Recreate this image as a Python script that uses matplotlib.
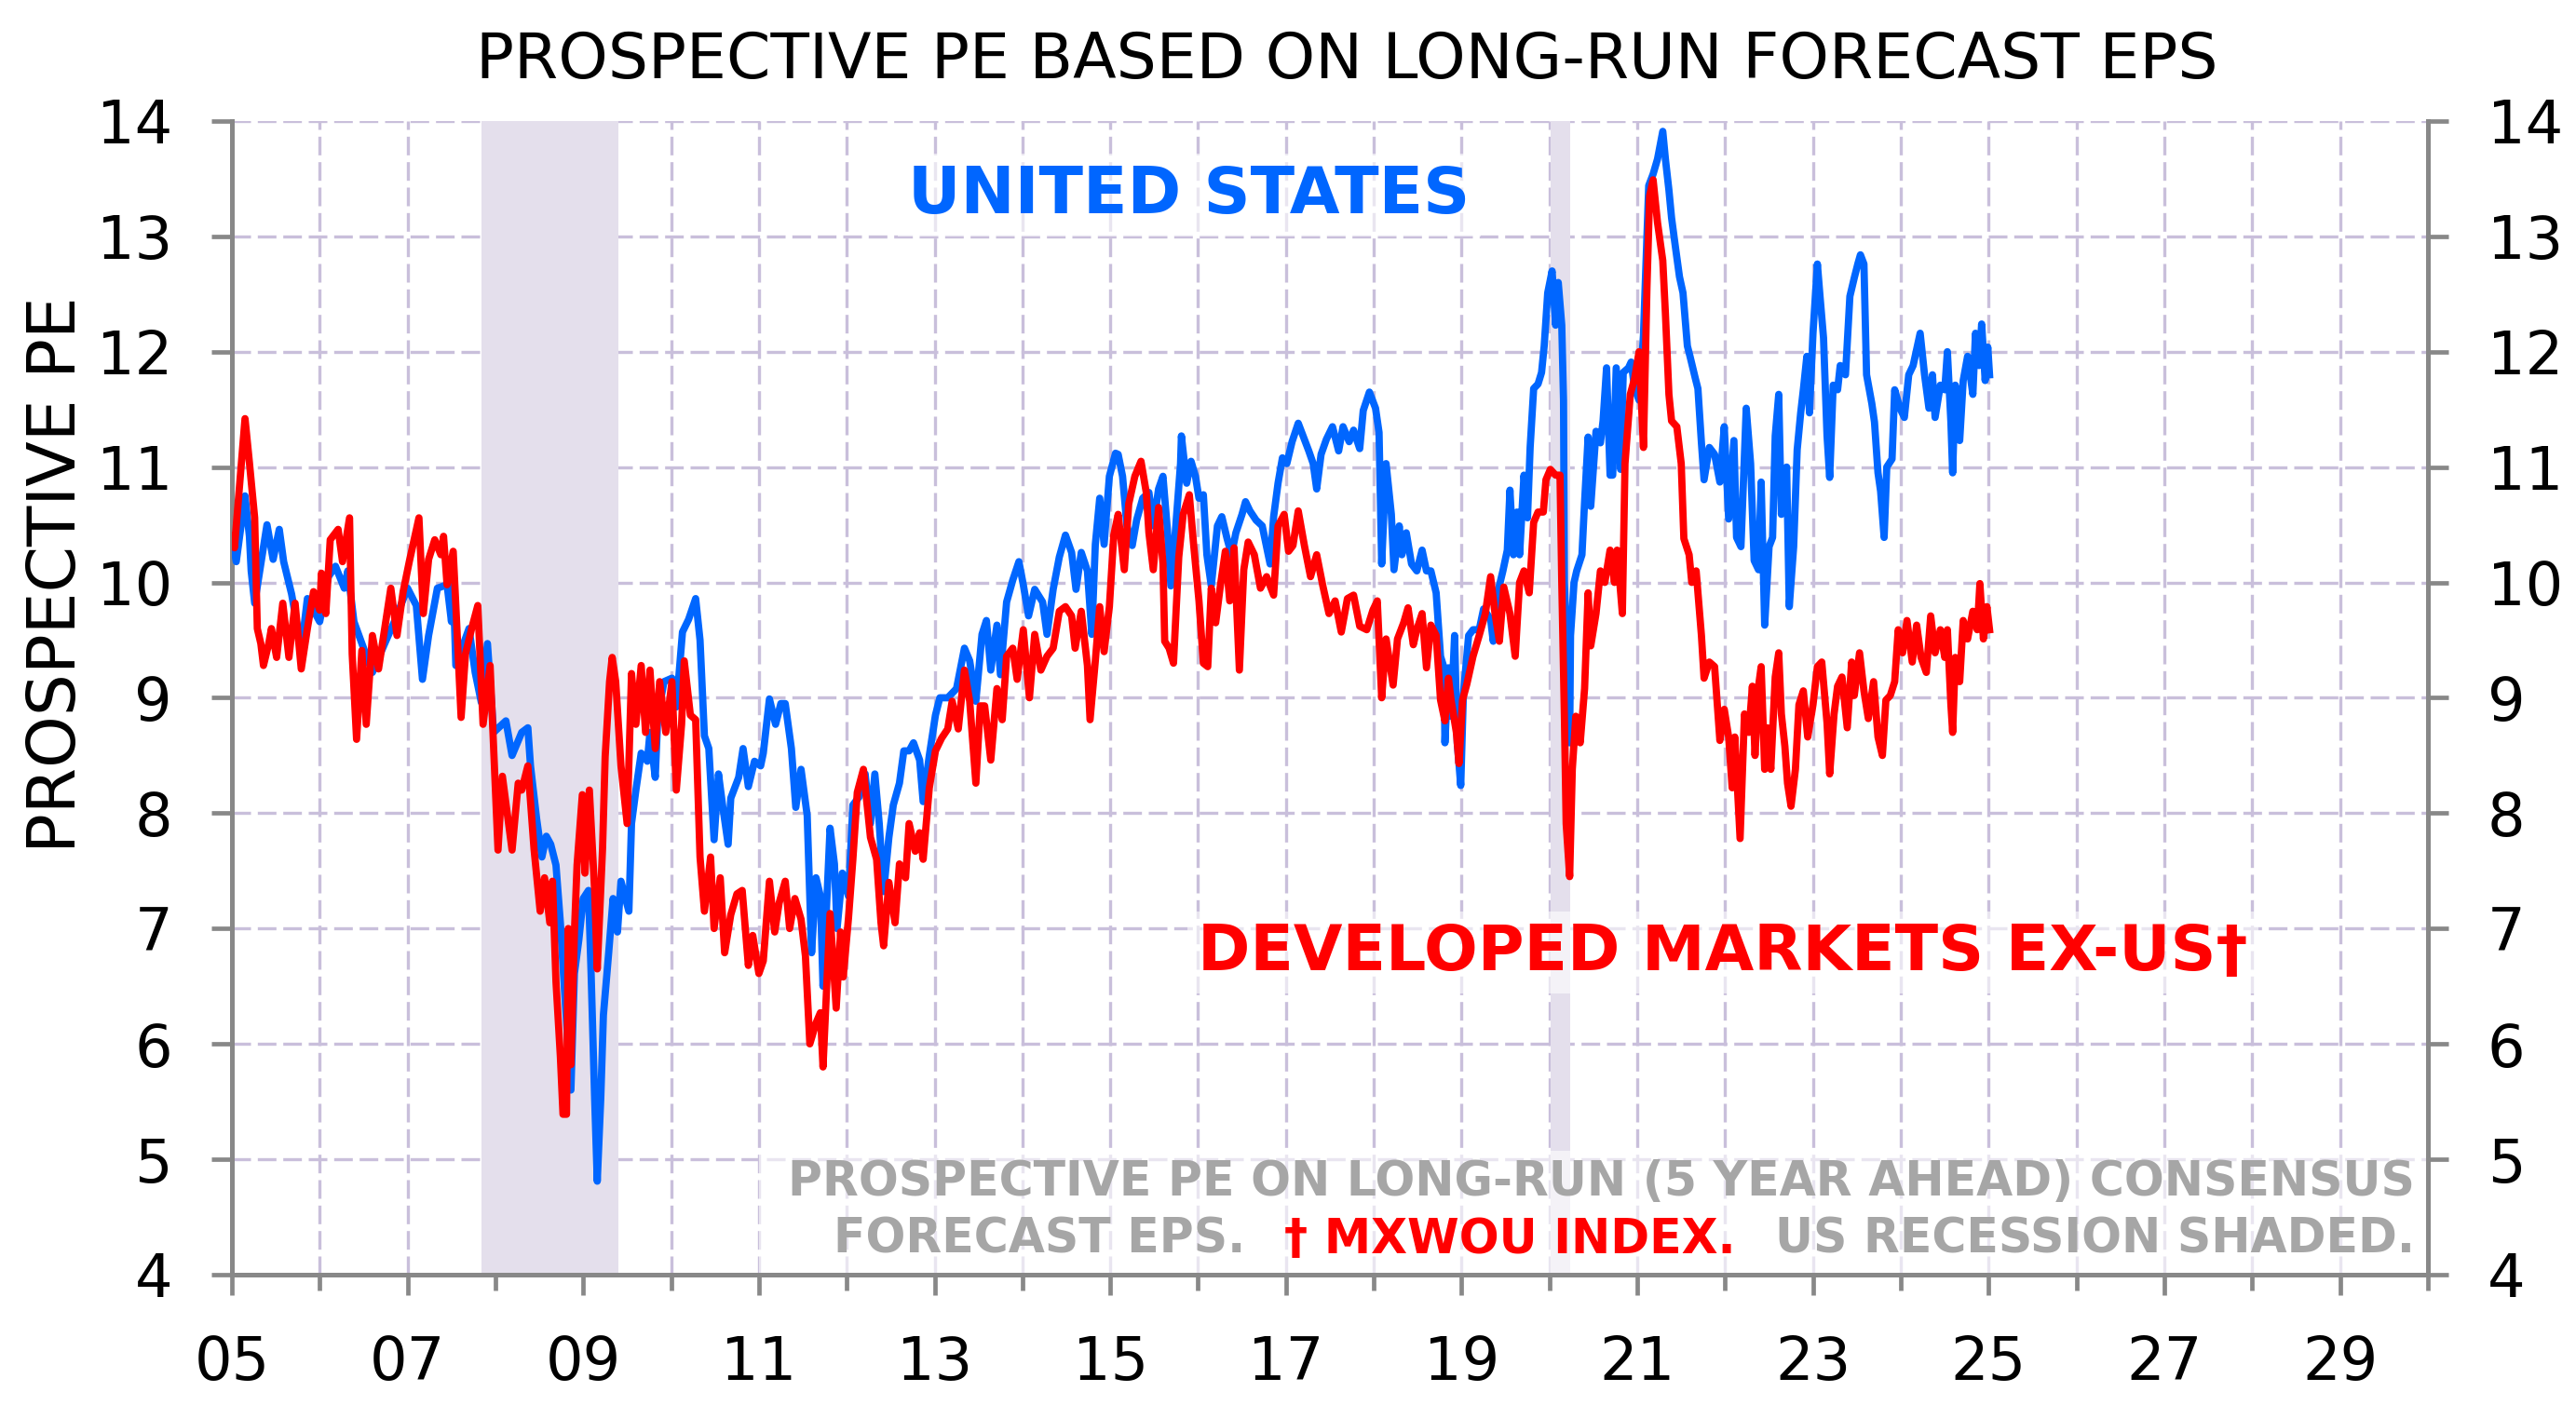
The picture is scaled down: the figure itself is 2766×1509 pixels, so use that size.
import matplotlib
matplotlib.use("Agg")
import matplotlib.pyplot as plt
from matplotlib.patches import Rectangle
from matplotlib.ticker import FixedLocator, MultipleLocator

plt.rcParams['font.family'] = ['DejaVu Sans']

# US prospective PE (decimal year, value)
us_dates = [2005.00, 2005.05, 2005.15, 2005.20, 2005.22, 2005.26, 2005.40, 2005.47, 2005.54, 2005.59,
            2005.68, 2005.75, 2005.81, 2005.86, 2006.00, 2006.10, 2006.18, 2006.28, 2006.32, 2006.39,
            2006.60, 2006.74, 2006.85, 2007.00, 2007.10, 2007.17, 2007.24, 2007.34, 2007.45, 2007.50,
            2007.52, 2007.55, 2007.70, 2007.77, 2007.84, 2007.91, 2007.98, 2008.12, 2008.19,
            2008.30, 2008.37, 2008.40, 2008.47, 2008.53, 2008.58, 2008.63, 2008.69, 2008.74, 2008.79,
            2008.86, 2008.90, 2008.95, 2009.00, 2009.06, 2009.09, 2009.13, 2009.16, 2009.20, 2009.23,
            2009.29, 2009.34, 2009.39, 2009.43, 2009.52, 2009.55, 2009.60, 2009.66, 2009.73, 2009.76,
            2009.82, 2009.85, 2009.92, 2010.01, 2010.06, 2010.13, 2010.20, 2010.28, 2010.33, 2010.38,
            2010.43, 2010.49, 2010.54, 2010.59, 2010.65, 2010.68, 2010.77, 2010.82, 2010.88, 2010.95,
            2011.02, 2011.05, 2011.12, 2011.19, 2011.25, 2011.30, 2011.37, 2011.42, 2011.48, 2011.55,
            2011.60, 2011.65,
            2011.70, 2011.73, 2011.81, 2011.86, 2011.89, 2011.95, 2012.02, 2012.07, 2012.14, 2012.21,
            2012.27, 2012.32, 2012.37, 2012.42, 2012.48, 2012.53, 2012.60, 2012.65, 2012.71, 2012.76,
            2012.83, 2012.87, 2012.94, 2013.01, 2013.06, 2013.15, 2013.25, 2013.34, 2013.40, 2013.47,
            2013.54, 2013.59, 2013.64, 2013.71, 2013.75, 2013.82, 2013.89, 2013.96, 2014.01, 2014.07,
            2014.14, 2014.23, 2014.28, 2014.35, 2014.42, 2014.49, 2014.56, 2014.61, 2014.67, 2014.74,
            2014.79, 2014.83, 2014.88, 2014.93, 2014.99, 2015.06,
            2015.09, 2015.14, 2015.19, 2015.25, 2015.30, 2015.37, 2015.44, 2015.49, 2015.55, 2015.60,
            2015.65, 2015.69, 2015.74, 2015.80, 2015.81, 2015.87, 2015.92, 2015.97, 2016.01, 2016.06,
            2016.10, 2016.15, 2016.22, 2016.27, 2016.33, 2016.38, 2016.43, 2016.50, 2016.54, 2016.59,
            2016.66, 2016.73, 2016.82, 2016.86, 2016.91, 2016.96, 2017.01, 2017.07, 2017.14, 2017.21,
            2017.26, 2017.31, 2017.35, 2017.40, 2017.46, 2017.53, 2017.60, 2017.65, 2017.72, 2017.77,
            2017.84, 2017.88, 2017.95, 2018.02, 2018.06, 2018.09, 2018.14, 2018.20, 2018.23, 2018.29,
            2018.32, 2018.37, 2018.43,
            2018.49, 2018.55, 2018.60, 2018.65, 2018.71, 2018.76, 2018.80, 2018.81, 2018.85, 2018.88,
            2018.92, 2018.95, 2018.99, 2019.02, 2019.08, 2019.13, 2019.20, 2019.25, 2019.33, 2019.36,
            2019.41, 2019.47, 2019.52, 2019.55, 2019.59, 2019.63, 2019.66, 2019.71, 2019.75, 2019.78,
            2019.82, 2019.87, 2019.91, 2019.94, 2019.98, 2020.03, 2020.07, 2020.10, 2020.14, 2020.16,
            2020.17, 2020.21, 2020.23, 2020.24, 2020.28, 2020.31, 2020.37, 2020.40, 2020.44, 2020.47,
            2020.53, 2020.58, 2020.61, 2020.65, 2020.69, 2020.72, 2020.76, 2020.81, 2020.84, 2020.90,
            2020.93, 2020.97, 2021.02, 2021.07, 2021.13, 2021.18, 2021.23, 2021.29, 2021.32, 2021.36,
            2021.39, 2021.43, 2021.48, 2021.52, 2021.57, 2021.60, 2021.66, 2021.69, 2021.73, 2021.76,
            2021.82,
            2021.88, 2021.94, 2021.99, 2022.04, 2022.10, 2022.13, 2022.18, 2022.24, 2022.29, 2022.33,
            2022.38, 2022.41, 2022.45, 2022.50, 2022.54, 2022.57, 2022.61, 2022.64, 2022.70, 2022.73,
            2022.78, 2022.82, 2022.86, 2022.89, 2022.93, 2022.96, 2023.00, 2023.05, 2023.08, 2023.12,
            2023.16, 2023.19, 2023.23, 2023.28, 2023.31, 2023.37, 2023.42, 2023.47, 2023.51, 2023.54,
            2023.58, 2023.61, 2023.67, 2023.70, 2023.74, 2023.77, 2023.81, 2023.84, 2023.90, 2023.93,
            2023.99, 2024.04, 2024.09, 2024.14, 2024.22, 2024.27, 2024.32, 2024.36, 2024.39, 2024.45,
            2024.50, 2024.53, 2024.57, 2024.59, 2024.62, 2024.67, 2024.71, 2024.76, 2024.82, 2024.85,
            2024.89, 2024.92, 2024.96, 2024.99, 2025.01]
us_pe = [10.40, 10.18, 10.75, 10.40, 10.10, 9.82, 10.50, 10.20, 10.46, 10.18,
         9.90, 9.60, 9.54, 9.86, 9.66, 10.05, 10.14, 9.95, 10.10, 9.66,
         9.22, 9.47, 9.66, 9.95, 9.80, 9.16, 9.54, 9.95, 9.98, 9.66,
         10.00, 9.28, 9.60, 9.22, 8.96, 9.47, 8.70, 8.80, 8.50,
         8.70, 8.74, 8.41, 7.95, 7.62, 7.80, 7.73, 7.55, 7.05, 6.43,
         5.60, 6.61, 6.90, 7.26, 7.33, 6.61, 5.53, 4.81, 5.53, 6.25,
         6.79, 7.26, 6.97, 7.41, 7.15, 7.91, 8.20, 8.52, 8.45, 8.70,
         8.31, 8.85, 9.14, 9.17, 8.92, 9.57, 9.68, 9.86, 9.50, 8.67,
         8.56, 7.77, 8.34, 8.05, 7.73, 8.13, 8.31, 8.56, 8.23, 8.45,
         8.41, 8.52, 8.99, 8.77, 8.95, 8.95, 8.56, 8.05, 8.38, 7.98,
         6.79, 7.44,
         7.28, 6.50, 7.87, 7.56, 7.00, 7.48, 7.28, 8.07, 8.14, 8.34,
         7.91, 8.34, 7.91, 7.32, 7.79, 8.07, 8.26, 8.54, 8.54, 8.61,
         8.46, 8.10, 8.50, 8.85, 9.00, 9.00, 9.08, 9.43, 9.32, 8.97,
         9.55, 9.67, 9.24, 9.63, 9.20, 9.83, 10.02, 10.18, 9.98, 9.71,
         9.94, 9.83, 9.55, 9.94, 10.22, 10.41, 10.26, 9.94, 10.26, 10.10,
         9.55, 10.33, 10.73, 10.33, 10.92, 11.12,
         11.11, 10.92, 10.49, 10.32, 10.54, 10.73, 10.78, 10.49, 10.81, 10.92,
         10.46, 9.97, 10.43, 11.03, 11.27, 10.86, 11.05, 10.92, 10.73, 10.76,
         10.24, 9.97, 10.49, 10.57, 10.38, 10.24, 10.43, 10.59, 10.70, 10.62,
         10.54, 10.49, 10.16, 10.57, 10.86, 11.08, 11.03, 11.22, 11.38, 11.24,
         11.14, 11.03, 10.81, 11.11, 11.24, 11.35, 11.14, 11.35, 11.22, 11.32,
         11.16, 11.49, 11.65, 11.51, 11.30, 10.16, 11.03, 10.59, 10.11, 10.49,
         10.24, 10.43, 10.16,
         10.10, 10.28, 10.10, 10.10, 9.91, 9.36, 9.26, 8.61, 9.26, 8.84,
         9.54, 8.61, 8.24, 9.03, 9.54, 9.59, 9.59, 9.77, 9.68, 9.49,
         9.91, 10.10, 10.28, 10.80, 10.24, 10.61, 10.24, 10.93, 10.56, 11.17,
         11.68, 11.72, 11.82, 12.05, 12.51, 12.70, 12.23, 12.60, 12.23, 11.58,
         10.00, 9.08, 8.61, 9.54, 10.00, 10.10, 10.24, 10.70, 11.26, 10.66,
         11.31, 11.21, 11.40, 11.86, 10.93, 10.93, 11.86, 10.98, 11.82, 11.86,
         11.91, 11.68, 11.58, 12.14, 13.44, 13.54, 13.67, 13.91, 13.67, 13.40,
         13.16, 12.93, 12.65, 12.51, 12.05, 11.96, 11.77, 11.68, 11.21, 10.89,
         11.17,
         11.11, 10.87, 11.35, 10.55, 11.23, 10.39, 10.31, 11.51, 11.03, 10.19,
         10.11, 10.87, 9.63, 10.31, 10.39, 11.27, 11.63, 10.59, 11.00, 9.79,
         10.31, 11.15, 11.47, 11.67, 11.96, 11.47, 12.16, 12.76, 12.48, 12.12,
         11.27, 10.91, 11.71, 11.67, 11.88, 11.80, 12.48, 12.64, 12.76, 12.84,
         12.76, 11.80, 11.55, 11.39, 10.95, 10.79, 10.39, 11.00, 11.07, 11.67,
         11.51, 11.43, 11.80, 11.88, 12.16, 11.80, 11.51, 11.80, 11.43, 11.71,
         11.67, 12.00, 11.39, 10.95, 11.71, 11.23, 11.75, 11.96, 11.63, 12.16,
         11.88, 12.24, 11.75, 12.04, 11.80]

# Developed markets ex-US (MXWOU) prospective PE
dm_dates = [2005.00, 2005.03, 2005.15, 2005.20, 2005.26, 2005.29, 2005.33, 2005.36, 2005.42, 2005.45,
            2005.51, 2005.58, 2005.65, 2005.72, 2005.79, 2005.86, 2005.93, 2006.00, 2006.02, 2006.07,
            2006.12, 2006.21, 2006.26, 2006.34, 2006.37, 2006.42, 2006.48, 2006.53, 2006.60, 2006.67,
            2006.74, 2006.81, 2006.88, 2006.95, 2007.02, 2007.13, 2007.18, 2007.24, 2007.31, 2007.38,
            2007.41, 2007.45, 2007.52, 2007.55, 2007.61, 2007.66, 2007.73, 2007.80, 2007.86, 2007.94,
            2008.03, 2008.08, 2008.19, 2008.26,
            2008.30, 2008.37, 2008.44, 2008.51, 2008.56, 2008.62, 2008.65, 2008.69, 2008.74, 2008.77,
            2008.81, 2008.83, 2008.86, 2008.90, 2008.93, 2008.99, 2009.02, 2009.07, 2009.13, 2009.16,
            2009.22, 2009.25, 2009.30, 2009.33, 2009.37, 2009.43, 2009.50, 2009.55, 2009.60, 2009.66,
            2009.71, 2009.76, 2009.82, 2009.87, 2009.94, 2010.01, 2010.06, 2010.12, 2010.15, 2010.22,
            2010.28, 2010.33, 2010.38, 2010.45, 2010.49, 2010.56, 2010.61, 2010.68, 2010.75, 2010.81,
            2010.88, 2010.93, 2011.00, 2011.05, 2011.12, 2011.18, 2011.23, 2011.30, 2011.35, 2011.41,
            2011.48, 2011.53, 2011.58, 2011.65,
            2011.70, 2011.73, 2011.81, 2011.88, 2011.93, 2011.96, 2012.02, 2012.07, 2012.12, 2012.19,
            2012.27, 2012.34, 2012.39, 2012.42, 2012.48, 2012.55, 2012.60, 2012.67, 2012.71, 2012.78,
            2012.83, 2012.87, 2012.94, 2013.01, 2013.08, 2013.15, 2013.20, 2013.27, 2013.34, 2013.40,
            2013.47, 2013.52, 2013.57, 2013.64, 2013.71, 2013.77, 2013.82, 2013.89, 2013.94, 2014.01,
            2014.08, 2014.14, 2014.21, 2014.28, 2014.35, 2014.42, 2014.49, 2014.56, 2014.60, 2014.67,
            2014.74, 2014.77, 2014.83, 2014.88, 2014.93, 2014.99, 2015.04,
            2015.09, 2015.16, 2015.21, 2015.28, 2015.35, 2015.41, 2015.44, 2015.49, 2015.55, 2015.60,
            2015.62, 2015.67, 2015.72, 2015.78, 2015.83, 2015.90, 2015.95, 2016.01, 2016.06, 2016.11,
            2016.15, 2016.20, 2016.25, 2016.31, 2016.36, 2016.41, 2016.47, 2016.52, 2016.57, 2016.64,
            2016.71, 2016.78, 2016.86, 2016.91, 2016.98, 2017.03, 2017.08, 2017.14, 2017.21, 2017.28,
            2017.35, 2017.42, 2017.49, 2017.56, 2017.63, 2017.70, 2017.77, 2017.84, 2017.92, 2017.99,
            2018.04, 2018.09, 2018.14, 2018.22, 2018.27, 2018.34, 2018.39, 2018.45,
            2018.49, 2018.55, 2018.60, 2018.65, 2018.71, 2018.76, 2018.81, 2018.85, 2018.88, 2018.94,
            2018.97, 2019.01, 2019.06, 2019.13, 2019.20, 2019.27, 2019.33, 2019.38, 2019.43, 2019.48,
            2019.55, 2019.61, 2019.66, 2019.71, 2019.77, 2019.82, 2019.87, 2019.93, 2019.96, 2020.01,
            2020.07, 2020.12, 2020.14, 2020.17, 2020.19, 2020.23, 2020.26, 2020.30, 2020.35, 2020.40,
            2020.44, 2020.47, 2020.53, 2020.58, 2020.63, 2020.69, 2020.74, 2020.77, 2020.83, 2020.86,
            2020.92, 2020.97, 2021.02, 2021.07, 2021.11, 2021.14, 2021.18, 2021.23, 2021.29, 2021.32,
            2021.36, 2021.39, 2021.45, 2021.50, 2021.53, 2021.59, 2021.62, 2021.67, 2021.73, 2021.76,
            2021.82,
            2021.88, 2021.94, 2021.99, 2022.04, 2022.08, 2022.11, 2022.17, 2022.22, 2022.27, 2022.31,
            2022.34, 2022.38, 2022.41, 2022.45, 2022.48, 2022.52, 2022.57, 2022.61, 2022.64, 2022.68,
            2022.71, 2022.75, 2022.80, 2022.84, 2022.89, 2022.94, 2023.00, 2023.05, 2023.10, 2023.16,
            2023.19, 2023.24, 2023.28, 2023.33, 2023.39, 2023.44, 2023.47, 2023.53, 2023.58, 2023.63,
            2023.69, 2023.74, 2023.79, 2023.83, 2023.88, 2023.93, 2023.97, 2024.02, 2024.07, 2024.13,
            2024.18, 2024.23, 2024.29, 2024.34, 2024.39, 2024.45, 2024.50, 2024.53, 2024.57, 2024.59,
            2024.62, 2024.67, 2024.71, 2024.76, 2024.82, 2024.87, 2024.90, 2024.94, 2024.98, 2025.01]
dm_pe = [10.40, 10.30, 11.42, 11.04, 10.56, 9.60, 9.47, 9.28, 9.47, 9.60,
         9.35, 9.82, 9.35, 9.82, 9.25, 9.60, 9.92, 9.76, 10.08, 9.73,
         10.37, 10.46, 10.18, 10.56, 9.38, 8.64, 9.41, 8.77, 9.54, 9.25,
         9.60, 9.95, 9.54, 9.92, 10.18, 10.56, 9.73, 10.20, 10.37, 10.24,
         10.40, 9.98, 10.27, 9.80, 8.83, 9.38, 9.60, 9.80, 8.77, 9.28,
         7.68, 8.32, 7.68, 8.26,
         8.20, 8.41, 7.69, 7.15, 7.44, 7.05, 7.41, 6.54, 5.89, 5.39,
         5.39, 7.00, 5.82, 6.97, 7.55, 8.16, 7.48, 8.20, 7.33, 6.65,
         7.69, 8.49, 9.14, 9.35, 9.14, 8.41, 7.91, 9.21, 8.77, 9.28,
         8.70, 9.24, 8.56, 9.14, 8.70, 9.14, 8.20, 8.77, 9.32, 8.85,
         8.81, 7.62, 7.15, 7.62, 7.00, 7.44, 6.79, 7.12, 7.30, 7.33,
         6.68, 6.94, 6.61, 6.72, 7.41, 6.97, 7.22, 7.41, 7.00, 7.26,
         7.08, 6.76, 6.00, 6.18,
         6.27, 5.80, 7.13, 6.31, 6.97, 6.58, 7.09, 7.60, 8.18, 8.38,
         7.79, 7.60, 7.05, 6.85, 7.40, 7.05, 7.56, 7.44, 7.91, 7.67,
         7.83, 7.60, 8.22, 8.54, 8.65, 8.73, 8.97, 8.73, 9.24, 8.97,
         8.26, 8.93, 8.93, 8.46, 9.08, 8.81, 9.36, 9.43, 9.16, 9.59,
         9.00, 9.55, 9.24, 9.36, 9.43, 9.75, 9.79, 9.71, 9.43, 9.75,
         9.28, 8.81, 9.32, 9.79, 9.40, 9.79, 10.41,
         10.59, 10.11, 10.68, 10.92, 11.05, 10.78, 10.43, 10.11, 10.65, 10.16,
         9.49, 9.43, 9.30, 10.22, 10.59, 10.76, 10.32, 9.84, 9.30, 9.27,
         9.95, 9.65, 9.95, 10.27, 9.84, 10.30, 9.24, 10.11, 10.35, 10.24,
         9.95, 10.05, 9.89, 10.49, 10.59, 10.27, 10.32, 10.62, 10.32, 10.05,
         10.24, 9.97, 9.73, 9.84, 9.57, 9.86, 9.89, 9.62, 9.59, 9.76,
         9.84, 9.00, 9.51, 9.11, 9.51, 9.65, 9.78, 9.46,
         9.59, 9.73, 9.26, 9.63, 9.54, 8.98, 8.80, 9.17, 8.98, 8.70,
         8.43, 8.98, 9.12, 9.36, 9.54, 9.73, 10.05, 9.73, 9.49, 9.96,
         9.73, 9.36, 10.00, 10.10, 9.91, 10.52, 10.61, 10.61, 10.89, 10.98,
         10.93, 10.93, 10.00, 8.84, 7.91, 7.45, 8.38, 8.84, 8.61, 9.08,
         9.91, 9.45, 9.73, 10.10, 10.00, 10.28, 10.00, 10.28, 9.73, 11.03,
         11.63, 11.77, 12.00, 11.17, 12.56, 13.35, 13.49, 13.12, 12.79, 12.33,
         11.63, 11.40, 11.35, 11.03, 10.38, 10.24, 10.00, 10.10, 9.54, 9.17,
         9.31,
         9.27, 8.63, 8.90, 8.66, 8.22, 8.66, 7.78, 8.86, 8.70, 9.10,
         8.50, 9.10, 9.27, 8.38, 8.74, 8.38, 9.18, 9.39, 8.86, 8.58,
         8.26, 8.06, 8.38, 8.94, 9.06, 8.66, 8.94, 9.27, 9.31, 8.78,
         8.34, 8.86, 9.10, 9.18, 8.74, 9.31, 9.02, 9.39, 9.06, 8.82,
         9.14, 8.66, 8.50, 8.98, 9.02, 9.14, 9.59, 9.39, 9.67, 9.31,
         9.63, 9.35, 9.22, 9.71, 9.39, 9.59, 9.35, 9.59, 8.94, 8.70,
         9.35, 9.14, 9.67, 9.51, 9.75, 9.59, 9.99, 9.51, 9.79, 9.59]

# US recessions (shaded)
recessions = [(2007.84, 2009.40), (2020.01, 2020.24)]

year_ticks = list(range(2005, 2030, 2))
year_labels = ['%02d' % (y % 100) for y in year_ticks]
pe_ticks = list(range(4, 15))

GRAY = '#888888'
GRID = '#C9BFDB'
BLUE = '#0066FF'
RED = '#FF0000'
NOTE = '#A6A6A6'

fig = plt.figure(figsize=(13.83, 7.545), dpi=200)
ax = fig.add_axes([0.0900, 0.0928, 0.8525, 0.8211])

for a, b in recessions:
    ax.axvspan(a, b, color='#E4DFEC', lw=0, zorder=1)

ax.plot(us_dates, us_pe, color=BLUE, lw=2.8, zorder=3, solid_joinstyle='round')
ax.plot(dm_dates, dm_pe, color=RED, lw=2.8, zorder=4, solid_joinstyle='round')

ax.set_xlim(2005, 2030)
ax.set_ylim(4, 14)
ax.xaxis.set_major_locator(FixedLocator(year_ticks))
ax.xaxis.set_minor_locator(MultipleLocator(1))
ax.set_xticklabels(year_labels)
ax.yaxis.set_major_locator(FixedLocator(pe_ticks))

ax.set_axisbelow(True)
ax.grid(True, which='both', axis='x', color=GRID, lw=1.2, ls=(0, (6, 2.2)))
ax.grid(True, which='major', axis='y', color=GRID, lw=1.2, ls=(0, (6, 2.2)))

for s in ['left', 'right', 'bottom']:
    ax.spines[s].set_color(GRAY)
    ax.spines[s].set_linewidth(1.8)
ax.spines['top'].set_visible(False)

ax.tick_params(axis='both', which='major', direction='out', length=8, width=1.7,
               color=GRAY, labelsize=23, pad=15)
ax.tick_params(axis='x', which='minor', direction='out', length=6, width=1.7, color=GRAY)
ax.tick_params(axis='y', left=True, right=True, labelleft=True, labelright=True)

fig.text(0.523, 0.957, 'PROSPECTIVE PE BASED ON LONG-RUN FORECAST EPS',
         ha='center', va='center', fontsize=24.5)
fig.text(0.0224, 0.591, 'PROSPECTIVE PE', rotation=90, ha='center', va='center', fontsize=25.5)

ax.text(0.436, 0.936, 'UNITED STATES', transform=ax.transAxes, ha='center', va='center',
        fontsize=25, fontweight='bold', color=BLUE, zorder=5,
        bbox=dict(facecolor='white', alpha=0.6, edgecolor='none', pad=4))
ax.text(0.679, 0.279, 'DEVELOPED MARKETS EX-US\u2020', transform=ax.transAxes, ha='center',
        va='center', fontsize=24.5, fontweight='bold', color=RED, zorder=5,
        bbox=dict(facecolor='white', alpha=0.6, edgecolor='none', pad=4))

# note box at the bottom right
ax.add_patch(Rectangle((0.240, 0.0), 0.76, 0.107, transform=ax.transAxes,
                       facecolor='white', alpha=0.6, edgecolor='none', zorder=2))
ax.text(0.994, 0.080, 'PROSPECTIVE PE ON LONG-RUN (5 YEAR AHEAD) CONSENSUS',
        transform=ax.transAxes, ha='right', va='center', fontsize=18.2,
        fontweight='bold', color=NOTE, zorder=5)

fig.canvas.draw()
ren = fig.canvas.get_renderer()
ax_w = ax.get_window_extent(ren).width
gap = 42 / ax_w
line2 = [('FORECAST EPS.', NOTE), ('\u2020 MXWOU INDEX.', RED), ('US RECESSION SHADED.', NOTE)]
x = 0.994
for s, c in reversed(line2):
    t = ax.text(x, 0.030, s, transform=ax.transAxes, ha='right', va='center',
                fontsize=18.2, fontweight='bold', color=c, zorder=5)
    x -= t.get_window_extent(ren).width / ax_w + gap

fig.savefig('out.png', dpi=200)
